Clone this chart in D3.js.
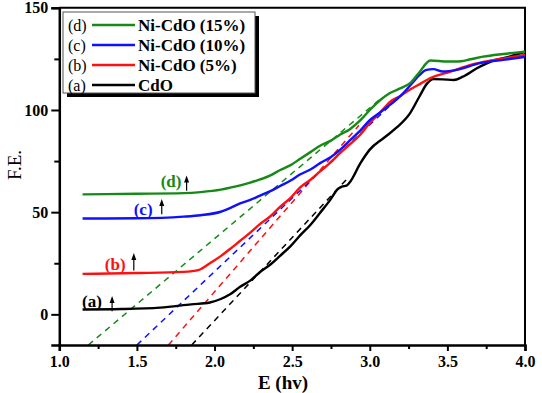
<!DOCTYPE html>
<html>
<head>
<meta charset="utf-8">
<script src="https://cdn.jsdelivr.net/npm/d3@7"></script>
<style>
  body { margin: 0; background: #fff; }
  svg text { font-family: "Liberation Serif", "Times New Roman", Times, "DejaVu Serif", serif; }
</style>
</head>
<body>
<div id="chart"></div>
<script>
// E (hv) values and F.E. values for each sample
const cdoE  = [1.15, 1.4, 1.65, 1.85, 1.97, 2.04, 2.1, 2.165, 2.23, 2.29, 2.36, 2.42, 2.49, 2.55, 2.62, 2.68, 2.75, 2.79, 2.82, 2.85, 2.87, 2.94, 3.0, 3.09, 3.17, 3.26, 3.32, 3.37, 3.41, 3.47, 3.54, 3.6, 3.69, 3.78, 3.9, 4.0];
const cdoFE = [2.4, 2.6, 3.3, 4.9, 5.8, 7.5, 9.8, 13.5, 16.5, 20.5, 24.4, 28.5, 33.4, 38.5, 44, 49.7, 56.5, 61, 62.5, 63, 64.5, 74, 80.6, 86.3, 91.2, 98.5, 106.6, 113, 115.1, 115, 114.7, 116.3, 120.4, 123.7, 126.1, 128.5];

const ni5E  = [1.15, 1.5, 1.8, 1.9, 1.92, 1.97, 2.04, 2.1, 2.165, 2.23, 2.29, 2.36, 2.42, 2.49, 2.55, 2.62, 2.68, 2.75, 2.81, 2.87, 2.94, 3.0, 3.07, 3.13, 3.2, 3.26, 3.33, 3.39, 3.52, 3.65, 3.78, 3.91, 4.0];
const ni5FE = [19.8, 20.2, 20.8, 21.8, 22.5, 25, 28.5, 32, 36, 40, 44, 48, 52.5, 57, 62, 66, 70, 74.5, 79, 83, 88, 93.6, 99, 104, 107, 110, 113, 115.6, 118.8, 122.1, 124.2, 125.8, 127];

const ni10E  = [1.15, 1.5, 1.8, 1.91, 2.04, 2.1, 2.165, 2.23, 2.29, 2.36, 2.42, 2.49, 2.55, 2.62, 2.68, 2.75, 2.81, 2.87, 2.94, 3.0, 3.07, 3.13, 3.2, 3.26, 3.32, 3.36, 3.41, 3.47, 3.56, 3.71, 3.86, 4.0];
const ni10FE = [46.9, 47, 47.8, 48.5, 50.2, 52, 54.3, 56, 58, 60.3, 62.7, 65.5, 68.4, 71, 74, 77, 80.6, 85, 90, 95, 99, 102.5, 107, 112, 117, 119.5, 120, 118.8, 119.6, 122.9, 124.5, 126];

const ni15E  = [1.15, 1.5, 1.8, 1.91, 2.04, 2.1, 2.23, 2.36, 2.42, 2.49, 2.55, 2.62, 2.68, 2.75, 2.81, 2.87, 2.94, 3.0, 3.07, 3.13, 3.2, 3.26, 3.32, 3.39, 3.5, 3.56, 3.65, 3.73, 3.86, 4.0];
const ni15FE = [58.7, 59, 59.3, 59.8, 61, 62, 64.5, 68, 70.5, 73, 76, 79.5, 82.5, 85, 88, 90.5, 95, 100, 105, 108.3, 110.7, 113.1, 118.5, 124.2, 123.7, 123.7, 124.8, 126.1, 127.4, 128.5];

// tangent (extrapolation) lines: start and end points [E, F.E.]
const fitCdO  = [[1.853, -15], [2.85, 66]];
const fitNi5  = [[1.703, -15], [2.93, 92.5]];
const fitNi10 = [[1.5, -15], [3.17, 105]];
const fitNi15 = [[1.187, -15], [3.07, 105.5]];

const seriesNames  = ["(a)", "(b)", "(c)", "(d)"];
const seriesLabels = ["CdO", "Ni-CdO (5%)", "Ni-CdO (10%)", "Ni-CdO (15%)"];
const seriesColors = ["#000000", "#ff1010", "#1010ff", "#168a16"];

// label positions of (a)..(d) and the little arrows, [E, F.E.]
const tagPos   = [[1.21, 6.5], [1.36, 24.4], [1.54, 51.3], [1.72, 65]];
const arrowPos = [[1.34, 1.5, 9], [1.48, 21.5, 30], [1.66, 49, 56.5], [1.82, 60.5, 68]];

const xTicks = [1.0, 1.5, 2.0, 2.5, 3.0, 3.5, 4.0];
const xMinor = [1.25, 1.75, 2.25, 2.75, 3.25, 3.75];
const yTicks = [0, 50, 100, 150];
const yMinor = [25, 75, 125];

const zip = (xs, ys) => xs.map((x, i) => [x, ys[i]]);
const curves = [zip(cdoE, cdoFE), zip(ni5E, ni5FE), zip(ni10E, ni10FE), zip(ni15E, ni15FE)];
const fits = [fitCdO, fitNi5, fitNi10, fitNi15];

const svg = d3.select("#chart")
  .append("svg")
  .attr("width", 542)
  .attr("height", 393)
  .style("background-color", "#fff");

const xScale = d3.scaleLinear()
  .domain([1.0, 4.0])
  .range([59.3, 525]);

const yScale = d3.scaleLinear()
  .domain([-15, 150])
  .range([345, 7.8]);

const lineGenerator = d3.line()
  .x(d => xScale(d[0]))
  .y(d => yScale(d[1]))
  .curve(d3.curveMonotoneX);

// frame (top and right)
svg.append("path")
  .attr("d", `M${xScale(1)},${yScale(150)}H${xScale(4)}V${yScale(-15)}`)
  .attr("fill", "none")
  .attr("stroke", "#000")
  .attr("stroke-width", 2);

// dashed tangents
svg.selectAll(".fit")
  .data(fits)
  .join("path")
  .attr("class", "fit")
  .attr("d", d3.line().x(d => xScale(d[0])).y(d => yScale(d[1])))
  .attr("fill", "none")
  .attr("stroke", (d, i) => seriesColors[i])
  .attr("stroke-width", 1.5)
  .attr("stroke-dasharray", "6,5");

// curves
svg.selectAll(".curve")
  .data(curves)
  .join("path")
  .attr("class", "curve")
  .attr("d", lineGenerator)
  .attr("fill", "none")
  .attr("stroke", (d, i) => seriesColors[i])
  .attr("stroke-width", 2.4)
  .attr("stroke-linejoin", "round");

// x axis
svg.append("g")
  .attr("transform", `translate(0,${yScale(-15)})`)
  .call(d3.axisBottom(xScale).tickValues(xTicks).tickFormat(d3.format(".1f")).tickSize(6).tickPadding(5));

svg.append("g")
  .attr("transform", `translate(0,${yScale(-15)})`)
  .call(d3.axisBottom(xScale).tickValues(xMinor).tickFormat("").tickSize(4))
  .select(".domain").remove();

// y axis
svg.append("g")
  .attr("transform", `translate(${xScale(1)},0)`)
  .call(d3.axisLeft(yScale).tickValues(yTicks).tickSize(8).tickPadding(3));

svg.append("g")
  .attr("transform", `translate(${xScale(1)},0)`)
  .call(d3.axisLeft(yScale).tickValues(yMinor).tickFormat("").tickSize(5))
  .select(".domain").remove();

svg.selectAll(".domain")
  .attr("stroke", "#000")
  .attr("stroke-width", 2.5);

svg.selectAll(".tick line")
  .attr("stroke", "#000")
  .attr("stroke-width", 2);

// d3 axis sets font-family="sans-serif" on the group; drop it so the css applies
svg.selectAll("g").attr("font-family", null);

svg.selectAll(".tick text")
  .attr("fill", "#000")
  .attr("font-weight", 700)
  .attr("font-size", 16);

// axis titles
svg.append("text")
  .text("E (hv)")
  .attr("x", 283)
  .attr("y", 389)
  .attr("text-anchor", "middle")
  .attr("font-weight", 700)
  .attr("font-size", 19);

svg.append("text")
  .text("F.E.")
  .attr("transform", "translate(21,165) rotate(-90)")
  .attr("text-anchor", "middle")
  .attr("font-size", 19);

// (a)..(d) tags with arrows
svg.selectAll(".tag")
  .data(tagPos)
  .join("text")
  .attr("class", "tag")
  .text((d, i) => seriesNames[i])
  .attr("x", d => xScale(d[0]))
  .attr("y", d => yScale(d[1]))
  .attr("dy", "0.35em")
  .attr("text-anchor", "middle")
  .attr("fill", (d, i) => seriesColors[i])
  .attr("font-weight", 700)
  .attr("font-size", 17);

svg.selectAll(".arrow")
  .data(arrowPos)
  .join("line")
  .attr("class", "arrow")
  .attr("x1", d => xScale(d[0]))
  .attr("x2", d => xScale(d[0]))
  .attr("y1", d => yScale(d[1]))
  .attr("y2", d => yScale(d[2]) + 5)
  .attr("stroke", "#000")
  .attr("stroke-width", 1.2);

svg.selectAll(".head")
  .data(arrowPos)
  .join("path")
  .attr("class", "head")
  .attr("d", d => {
    const x = xScale(d[0]), y = yScale(d[2]);
    return `M${x},${y}L${x + 2.5},${y + 7}L${x - 2.5},${y + 7}Z`;
  })
  .attr("fill", "#000");

// legend
const legend = svg.append("g")
  .attr("transform", "translate(63,12)");

legend.append("rect")
  .attr("x", 4)
  .attr("y", 4)
  .attr("width", 192)
  .attr("height", 81)
  .attr("fill", "#000");

legend.append("rect")
  .attr("width", 192)
  .attr("height", 81)
  .attr("fill", "#fff")
  .attr("stroke", "#555")
  .attr("stroke-width", 1);

const legendRows = [3, 2, 1, 0];
const rows = legend.selectAll(".row")
  .data(legendRows)
  .join("g")
  .attr("class", "row")
  .attr("transform", (d, i) => `translate(0,${13 + i * 20})`);

rows.append("text")
  .text(d => seriesNames[d])
  .attr("x", 5)
  .attr("dy", "0.35em")
  .attr("font-size", 16);

rows.append("line")
  .attr("x1", 29)
  .attr("x2", 72)
  .attr("stroke", d => seriesColors[d])
  .attr("stroke-width", 2.4);

rows.append("text")
  .text(d => seriesLabels[d])
  .attr("x", 75)
  .attr("dy", "0.35em")
  .attr("font-weight", 700)
  .attr("font-size", 17);
</script>
</body>
</html>
